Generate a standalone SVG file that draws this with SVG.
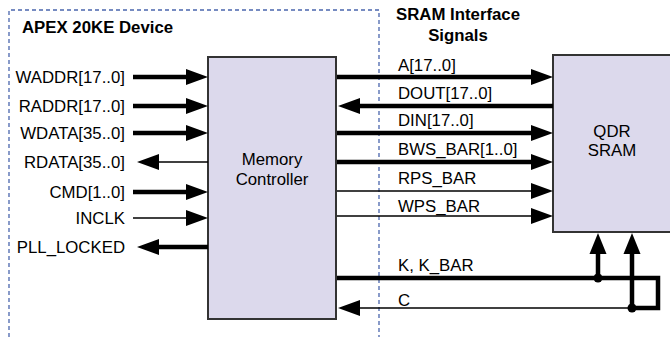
<svg xmlns="http://www.w3.org/2000/svg" width="670" height="337" viewBox="0 0 670 337">
  <style>
    .lbl { font-family: "Liberation Sans", Arial, sans-serif; font-size: 16.8px; fill: #000; }
    .ttl { font-family: "Liberation Sans", Arial, sans-serif; font-size: 16.8px; font-weight: bold; fill: #000; }
    .end { text-anchor: end; }
    .mid { text-anchor: middle; }
    .box { fill: #dcd9ec; stroke: #333; stroke-width: 2; }
    .bnd { fill: none; stroke: #4a66ad; stroke-width: 1.3; stroke-dasharray: 4 3; }
    .thick { stroke: #000; stroke-width: 4.5; fill: none; }
    .thin { stroke: #000; stroke-width: 1.3; fill: none; }
    .head { fill: #000; }
  </style>
  <defs>
    <!-- arrowheads with their tips at the origin -->
    <path id="hR" d="M0,0 L-22,-8 L-22,8 Z"/>
    <path id="hL" d="M0,0 L22,-8 L22,8 Z"/>
    <path id="hU" d="M0,0 L-8.5,21 L8.5,21 Z"/>
  </defs>

  <!-- device boundary -->
  <g id="device-boundary">
    <path class="bnd" d="M9,337 V10 H379 V337"/>
    <text class="ttl" x="22" y="33">APEX 20KE Device</text>
  </g>

  <g id="interface-title">
    <text class="ttl mid" x="458" y="20">SRAM Interface</text>
    <text class="ttl mid" x="458" y="41">Signals</text>
  </g>

  <g id="memory-controller">
    <rect class="box" x="208" y="57" width="128" height="262"/>
    <text class="lbl mid" x="272" y="165">Memory</text>
    <text class="lbl mid" x="272" y="185">Controller</text>
  </g>

  <g id="qdr-sram">
    <rect class="box" x="553" y="55" width="130" height="177"/>
    <text class="lbl mid" x="612" y="137">QDR</text>
    <text class="lbl mid" x="612" y="156">SRAM</text>
  </g>

  <g id="connectors">
    <!-- controller user-side ports -->
    <line class="thick" x1="133" y1="77" x2="190" y2="77"/><use href="#hR" class="head" x="208" y="77"/>
    <line class="thick" x1="133" y1="106" x2="190" y2="106"/><use href="#hR" class="head" x="208" y="106"/>
    <line class="thick" x1="133" y1="133" x2="190" y2="133"/><use href="#hR" class="head" x="208" y="133"/>
    <line class="thin" x1="155" y1="162" x2="208" y2="162"/><use href="#hL" class="head" x="137" y="162"/>
    <line class="thick" x1="133" y1="192" x2="190" y2="192"/><use href="#hR" class="head" x="208" y="192"/>
    <line class="thin" x1="133" y1="218" x2="190" y2="218"/><use href="#hR" class="head" x="208" y="218"/>
    <line class="thick" x1="155" y1="247" x2="208" y2="247"/><use href="#hL" class="head" x="137" y="247"/>

    <!-- SRAM interface -->
    <line class="thick" x1="337" y1="77" x2="535" y2="77"/><use href="#hR" class="head" x="553" y="77"/>
    <line class="thick" x1="356" y1="106" x2="553" y2="106"/><use href="#hL" class="head" x="338" y="106"/>
    <line class="thick" x1="337" y1="133" x2="535" y2="133"/><use href="#hR" class="head" x="553" y="133"/>
    <line class="thick" x1="337" y1="162" x2="535" y2="162"/><use href="#hR" class="head" x="553" y="162"/>
    <line class="thin" x1="337" y1="191" x2="535" y2="191"/><use href="#hR" class="head" x="553" y="191"/>
    <line class="thin" x1="337" y1="216" x2="535" y2="216"/><use href="#hR" class="head" x="553" y="216"/>

    <!-- clocks: K, K_BAR loop back as C -->
    <path class="thick" d="M337,278 H658 V308 H632"/>
    <line class="thick" x1="598" y1="278" x2="598" y2="250"/><use href="#hU" class="head" x="598" y="233"/>
    <line class="thick" x1="632" y1="308" x2="632" y2="250"/><use href="#hU" class="head" x="632" y="233"/>
    <circle class="head" cx="598" cy="278" r="4.5"/>
    <circle class="head" cx="632" cy="308" r="4.5"/>
    <line class="thin" x1="356" y1="308" x2="632" y2="308"/><use href="#hL" class="head" x="338" y="308"/>
  </g>

  <g id="signal-labels">
    <text class="lbl end" x="125" y="83">WADDR[17..0]</text>
    <text class="lbl end" x="125" y="112">RADDR[17..0]</text>
    <text class="lbl end" x="125" y="139">WDATA[35..0]</text>
    <text class="lbl end" x="125" y="168">RDATA[35..0]</text>
    <text class="lbl end" x="125" y="198">CMD[1..0]</text>
    <text class="lbl end" x="125" y="224">INCLK</text>
    <text class="lbl end" x="125" y="253">PLL_LOCKED</text>

    <text class="lbl" x="398" y="71">A[17..0]</text>
    <text class="lbl" x="398" y="99">DOUT[17..0]</text>
    <text class="lbl" x="398" y="126">DIN[17..0]</text>
    <text class="lbl" x="398" y="155">BWS_BAR[1..0]</text>
    <text class="lbl" x="398" y="184">RPS_BAR</text>
    <text class="lbl" x="398" y="212">WPS_BAR</text>
    <text class="lbl" x="398" y="271">K, K_BAR</text>
    <text class="lbl" x="398" y="306">C</text>
  </g>
</svg>
